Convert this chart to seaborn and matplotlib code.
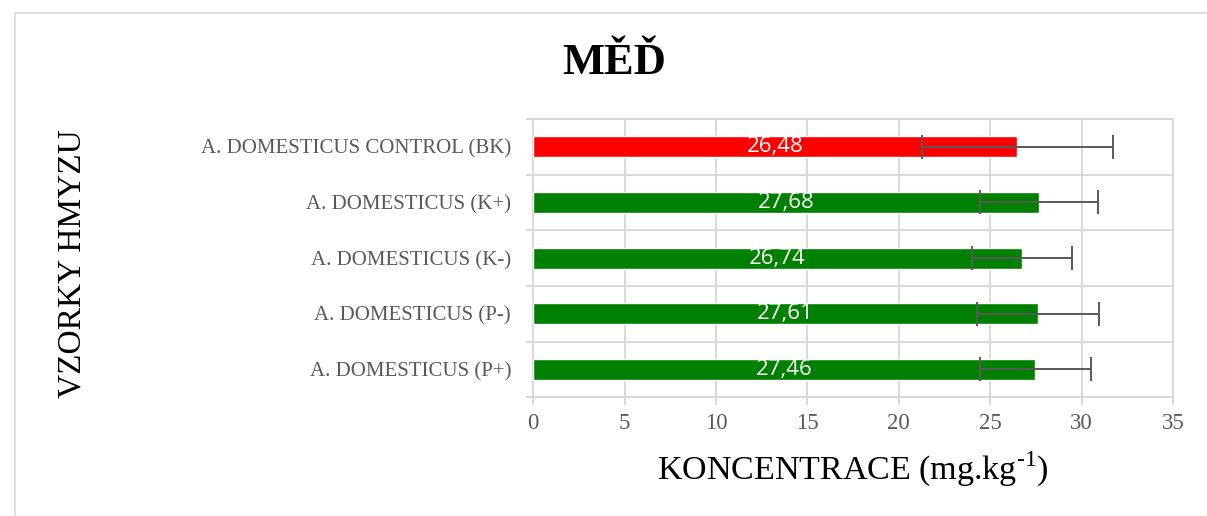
import matplotlib
matplotlib.use("Agg")
import matplotlib.pyplot as plt
import seaborn as sns
import numpy as np
import pandas as pd
from matplotlib.patches import Rectangle

categories = [
    "A. DOMESTICUS CONTROL (BK)",
    "A. DOMESTICUS (K+)",
    "A. DOMESTICUS (K-)",
    "A. DOMESTICUS (P-)",
    "A. DOMESTICUS (P+)",
]
values = [26.48, 27.68, 26.74, 27.61, 27.46]
errors = [5.23, 3.24, 2.76, 3.36, 3.03]
value_labels = ["26,48", "27,68", "26,74", "27,61", "27,46"]
bar_colors = ["#ff0000", "#008000", "#008000", "#008000", "#008000"]
x_ticks = [0, 5, 10, 15, 20, 25, 30, 35]

sns.set_theme(style="white")
plt.rcParams["font.family"] = ["Liberation Serif", "DejaVu Serif"]
plt.rcParams["mathtext.fontset"] = "custom"
plt.rcParams["mathtext.rm"] = "Liberation Serif"
plt.rcParams["text.color"] = "black"

df = pd.DataFrame({"cat": categories, "val": values})

W, H = 1207, 516
fig = plt.figure(figsize=(W / 100, H / 100), dpi=100)
ax = fig.add_axes([533.3 / W, 1 - 397.3 / H, (1173 - 533.3) / W, (397.3 - 119) / H])

sns.barplot(data=df, x="val", y="cat", hue="cat", palette=bar_colors,
            orient="h", width=0.377, legend=False, ax=ax, saturation=1,
            errorbar=None, zorder=3)

ax.errorbar(values, np.arange(len(values)), xerr=errors, fmt="none",
            ecolor="#595959", elinewidth=1.4, capsize=8.6, capthick=1.4, zorder=4)

for i, (v, lab) in enumerate(zip(values, value_labels)):
    ax.text(v / 2, i, lab, ha="center", va="center", color="white",
            fontsize=16, family=["Open Sans", "DejaVu Sans"], zorder=5)

grid_c = "#d9d9d9"
ax.set_xlim(0, 35)
ax.set_ylim(len(categories) - 0.5, -0.5)
ax.set_xticks(x_ticks)
ax.set_xticklabels([str(t) for t in x_ticks])
ax.set_yticks(np.arange(-0.5, len(categories)), minor=True)
ax.grid(axis="x", which="major", color=grid_c, linewidth=1.4, zorder=0)
ax.grid(axis="y", which="minor", color=grid_c, linewidth=1.4, zorder=0)
ax.set_axisbelow(True)
for s in ax.spines.values():
    s.set_color(grid_c)
    s.set_linewidth(1.4)

ax.tick_params(axis="y", which="major", length=0, pad=16, labelsize=15,
               labelcolor="#595959")
ax.tick_params(axis="y", which="minor", length=5, width=1.4, color=grid_c, left=True)
ax.tick_params(axis="x", which="major", length=5.5, width=1.4, color=grid_c,
               bottom=True, pad=6, labelsize=16.5, labelcolor="#595959")
ax.set_xlabel("")
ax.set_ylabel("")

fig.text(614 / W, 1 - 74.3 / H, "MĚĎ", ha="center", va="baseline",
         fontsize=32, fontweight="bold", color="black")
fig.text(853 / W, 1 - 480 / H, "KONCENTRACE (mg.kg$^{\\text{-1}}$)",
         ha="center", va="baseline", fontsize=24.5, color="black")
fig.text(72 / W, 1 - 263.5 / H, "VZORKY HMYZU", rotation=90,
         ha="center", va="center", fontsize=24, color="black")

fig.patches.append(Rectangle((15 / W, -0.1), 1.0, 1.1 - 13 / H,
                             transform=fig.transFigure, fill=False,
                             edgecolor=grid_c, linewidth=1.2))

fig.savefig("out.png", dpi=100)
